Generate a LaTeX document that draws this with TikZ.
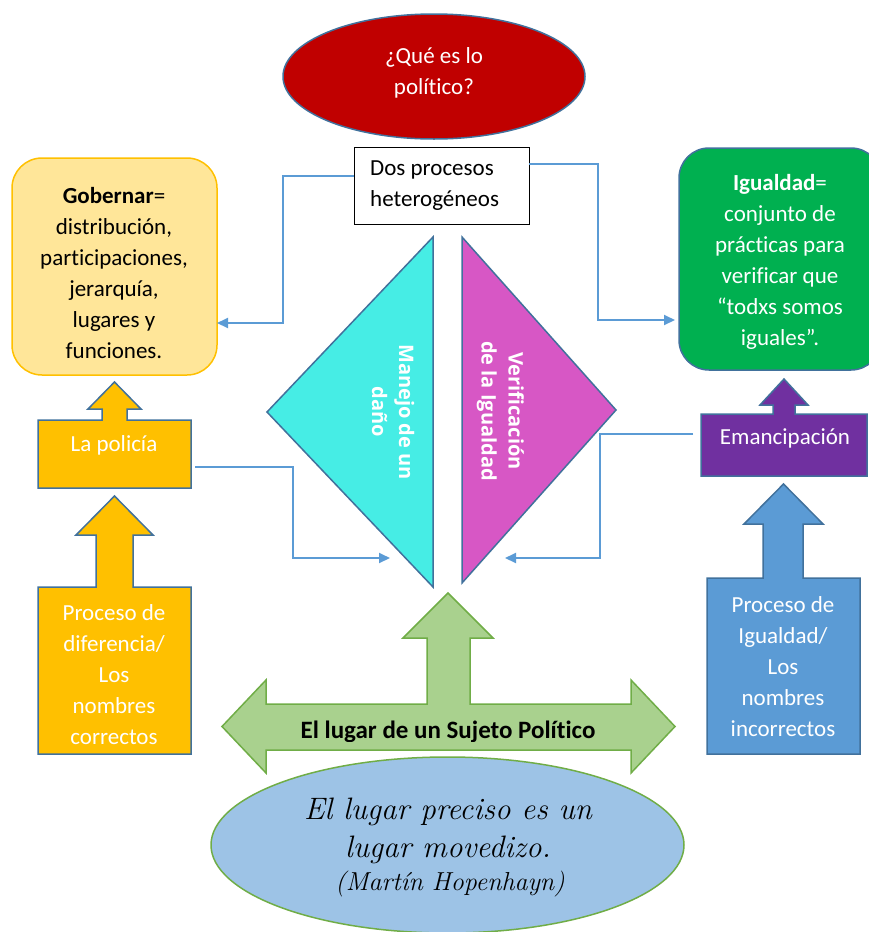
\documentclass[tikz,border=0pt]{standalone}
\usepackage{fontspec}
\newfontfamily\carlitofont[Ligatures=NoCommon]{Carlito}
\newfontfamily\opensansfont{Open Sans}
\usetikzlibrary{shapes.geometric,arrows.meta,calc}

\definecolor{edgeblue}{HTML}{41719C}
\definecolor{linkblue}{HTML}{5B9BD5}
\definecolor{darkred}{HTML}{C00000}
\definecolor{gold}{HTML}{FFC000}
\definecolor{lightgold}{HTML}{FFE699}
\definecolor{okgreen}{HTML}{00B050}
\definecolor{emapurple}{HTML}{7030A0}
\definecolor{midblue}{HTML}{5B9BD5}
\definecolor{lgreen}{HTML}{A9D18E}
\definecolor{mgreen}{HTML}{70AD47}
\definecolor{ellblue}{HTML}{9DC3E6}
\definecolor{cyanf}{HTML}{46EDE5}
\definecolor{magf}{HTML}{D757C5}

\begin{document}
\begin{tikzpicture}[x=1pt,y=-1pt,
  shapeline/.style={draw=edgeblue, line width=1.5pt, line join=miter},
  conn/.style={draw=linkblue, line width=2pt, -{Triangle[length=11pt,width=10pt]}},
  txt/.style={font=\carlitofont\fontsize{23}{31}\selectfont, align=center, inner sep=0pt},
  whitetxt/.style={txt, text=white},
  boxnode/.style={inner sep=0pt, outer sep=0pt},
  tritxt/.style={font=\opensansfont\bfseries\fontsize{20}{27}\selectfont, text=white, align=center, inner sep=0pt, rotate=-90},
  quotetxt/.style={inner sep=0pt, font=\itshape\fontsize{31}{36}\selectfont}
]
\useasboundingbox (0,0) rectangle (869,932);
\clip (0,0) rectangle (869,932);

% --- top question ---
\node[ellipse, fill=darkred, shapeline, minimum width=302pt, minimum height=125pt, inner sep=0pt] (qq) at (434,76.5) {};
\node[whitetxt] (qqtxt) at (434,73) {¿Qué es lo\\político?};

% --- two processes box ---
\node[boxnode, draw=black, line width=1pt, fill=white, minimum width=175pt, minimum height=77pt] (dos) at (441.5,185.5) {};
\node[txt, align=left, anchor=west] (dostxt) at (370,186) {Dos procesos\\heterogéneos};

% --- Gobernar box ---
\node[boxnode, draw=gold, fill=lightgold, line width=1.5pt, rounded corners=30pt, minimum width=205pt, minimum height=217pt] (gob) at (114.5,266.5) {};
\node[txt] (gobtxt) at (114,273) {\textbf{Gobernar}=\\distribución,\\participaciones,\\jerarquía,\\lugares y\\funciones.};

% --- Igualdad box ---
\node[boxnode, fill=okgreen, shapeline, rounded corners=30pt, minimum width=202pt, minimum height=222pt] (igu) at (780,259) {};
\node[whitetxt] (igutxt) at (780,261.5) {\textbf{Igualdad}=\\conjunto de\\prácticas para\\verificar que\\“todxs somos\\iguales”.};

% --- La policía (box with up arrow) ---
\draw[shapeline, fill=gold] (38,420) -- (102,420) -- (102,409) -- (88,409) -- (114.5,382) -- (141,409) -- (127,409) -- (127,420) -- (191,420) -- (191,488) -- (38,488) -- cycle;
\node[boxnode, minimum width=153pt, minimum height=68pt] (pol) at (114.5,454) {};
\node[whitetxt] (poltxt) at (114,445) {La policía};

% --- Proceso de diferencia ---
\draw[shapeline, fill=gold] (38,587) -- (96,587) -- (96,535) -- (76,535) -- (114.5,496) -- (153,535) -- (133,535) -- (133,587) -- (191,587) -- (191,754) -- (38,754) -- cycle;
\node[whitetxt] (diftxt) at (114,674.5) {Proceso de\\diferencia/\\Los\\nombres\\correctos};

% --- Emancipación ---
\draw[shapeline, fill=emapurple] (701,414) -- (773,414) -- (773,405) -- (760,405) -- (784,379) -- (808,405) -- (795,405) -- (795,414) -- (867,414) -- (867,476) -- (701,476) -- cycle;
\node[boxnode, minimum width=166pt, minimum height=62pt] (ema) at (784,445) {};
\node[whitetxt] (ematxt) at (785,438) {Emancipación};

% --- Proceso de Igualdad ---
\draw[shapeline, fill=midblue] (707,578) -- (763,578) -- (763,524) -- (744,524) -- (783.5,484) -- (823,524) -- (803,524) -- (803,578) -- (860,578) -- (860,754) -- (707,754) -- cycle;
\node[whitetxt] (igptxt) at (783,666.5) {Proceso de\\Igualdad/\\Los\\nombres\\incorrectos};

% --- central triangles ---
\draw[shapeline, fill=cyanf] (433,237) -- (267,412) -- (433,587) -- cycle;
\draw[shapeline, fill=magf] (462,237) -- (616,410) -- (462,583) -- cycle;
\node[tritxt] (dano) at (393,412) {Manejo de un\\daño};
\node[tritxt] (verif) at (500.5,411) {Verificación\\de la Igualdad};

% --- connectors ---
\coordinate (harmL) at (390,558);
\coordinate (harmR) at (505,558);
\draw[conn] ([yshift=9.5pt]dos.west) -- ++(-71,0) |- ([yshift=-56.5pt]gob.east);
\draw[conn] ([yshift=21.5pt]dos.east) -- ++(69,0) |- ([xshift=-4pt,yshift=-61pt]igu.west);
\draw[conn] ([xshift=4pt,yshift=-13pt]pol.east) -- ++(98,0) |- (harmL);
\draw[conn] ([xshift=-8pt,yshift=11pt]ema.west) -- ++(-93,0) |- (harmR);

% --- three-way green arrow ---
\draw[draw=mgreen, line width=1.5pt, fill=lgreen] (448,593) -- (493,638) -- (470,638) -- (470,704) -- (631,704) -- (631,680) -- (675,726.5) -- (631,773) -- (631,750) -- (266,750) -- (266,773) -- (222,726.5) -- (266,680) -- (266,704) -- (427,704) -- (427,638) -- (403,638) -- cycle;
\begin{scope}
  % the label is cut at the bottom of its text area
  \clip (222,700) rectangle (675,741);
  \node[txt, font=\carlitofont\bfseries\fontsize{25}{31}\selectfont, anchor=base] (lugar) at (448,738) {El lugar de un Sujeto Político};
\end{scope}

% --- quotation ellipse ---
\node[ellipse, fill=ellblue, draw=mgreen, line width=1.5pt, minimum width=473pt, minimum height=176pt, inner sep=0pt] (cita) at (447.5,845) {};
\node[quotetxt] (q1) at (448,812) {El lugar preciso es un};
\node[quotetxt] (q2) at (448,850) {lugar movedizo.};
\node[quotetxt, font=\itshape\fontsize{26}{30}\selectfont] (q3) at (450,884) {(Martín Hopenhayn)};
\end{tikzpicture}
\end{document}
